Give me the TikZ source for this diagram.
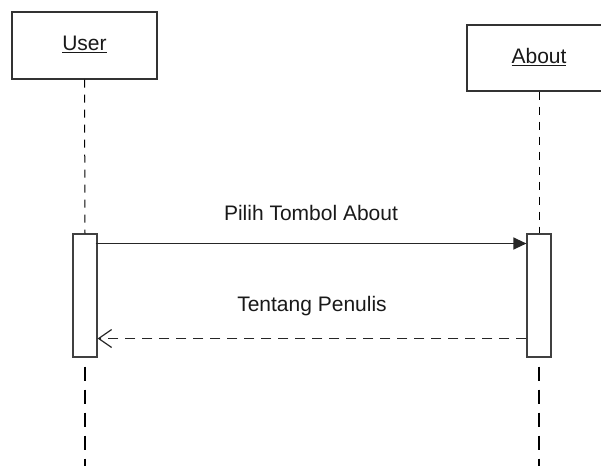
\documentclass[tikz,border=0pt]{standalone}
\usepackage{fontspec}
\setmainfont{Liberation Sans}
\usetikzlibrary{arrows.meta}
\begin{document}
\begin{tikzpicture}[x=1pt,y=-1pt,
  every node/.style={font=\fontsize{21}{24}\selectfont, text=black!90},
  actor/.style={draw=black!80, line width=1.4pt, fill=white, inner sep=0pt},
  activation/.style={draw=black!75, line width=1.2pt, fill=white, minimum width=24pt, minimum height=123pt, inner sep=0pt},
  lifetop/.style={draw=black, line width=1pt, dash pattern=on 8pt off 7pt},
  lifebottom/.style={draw=black, line width=1.8pt, dash pattern=on 14pt off 9pt},
  call/.style={draw=black!85, line width=1.3pt, -{Triangle[length=13pt,width=12pt]}},
  reply/.style={draw=black!85, line width=1.2pt, dash pattern=on 10pt off 7pt, -{Straight Barb[length=13pt,width=18pt,line width=1.2pt]}},
  msg/.style={inner sep=0pt}
]
\useasboundingbox (0,0) rectangle (601,466);
\begin{scope}
\clip (0,0) rectangle (601,466);
% participant heads
\node[actor, minimum width=145pt, minimum height=67pt] (user) at (84.5,45.5) {};
\node[msg] (usertxt) at (84.5,44) {\underline{User}};
\node[actor, minimum width=144pt, minimum height=66pt] (about) at (539,58) {};
\node[msg] (abouttxt) at (539,57) {\underline{About}};

% activation bars
\node[activation] (actU) at (85,295.5) {};
\node[activation] (actA) at (539,295.5) {};

% lifelines
\coordinate (endU) at (85,466);
\coordinate (endA) at (539,466);
\draw[lifetop] (user.south) -- (actU.north);
\draw[lifetop] (about.south) -- (actA.north);
\draw[lifebottom] ([yshift=-9pt]actU.south) -- (endU);
\draw[lifebottom] ([yshift=-9pt]actA.south) -- (endA);

% messages
\draw[call] ([xshift=-2pt,yshift=52pt]actU.east) -- ([yshift=52pt]actA.west)
  node[msg, midway, above=22pt] (m1) {Pilih Tombol About};
\draw[reply] ([yshift=-43pt]actA.west) -- ([yshift=-43pt]actU.east)
  node[msg, midway, above=22pt] (m2) {Tentang Penulis};
\end{scope}
\end{tikzpicture}
\end{document}
